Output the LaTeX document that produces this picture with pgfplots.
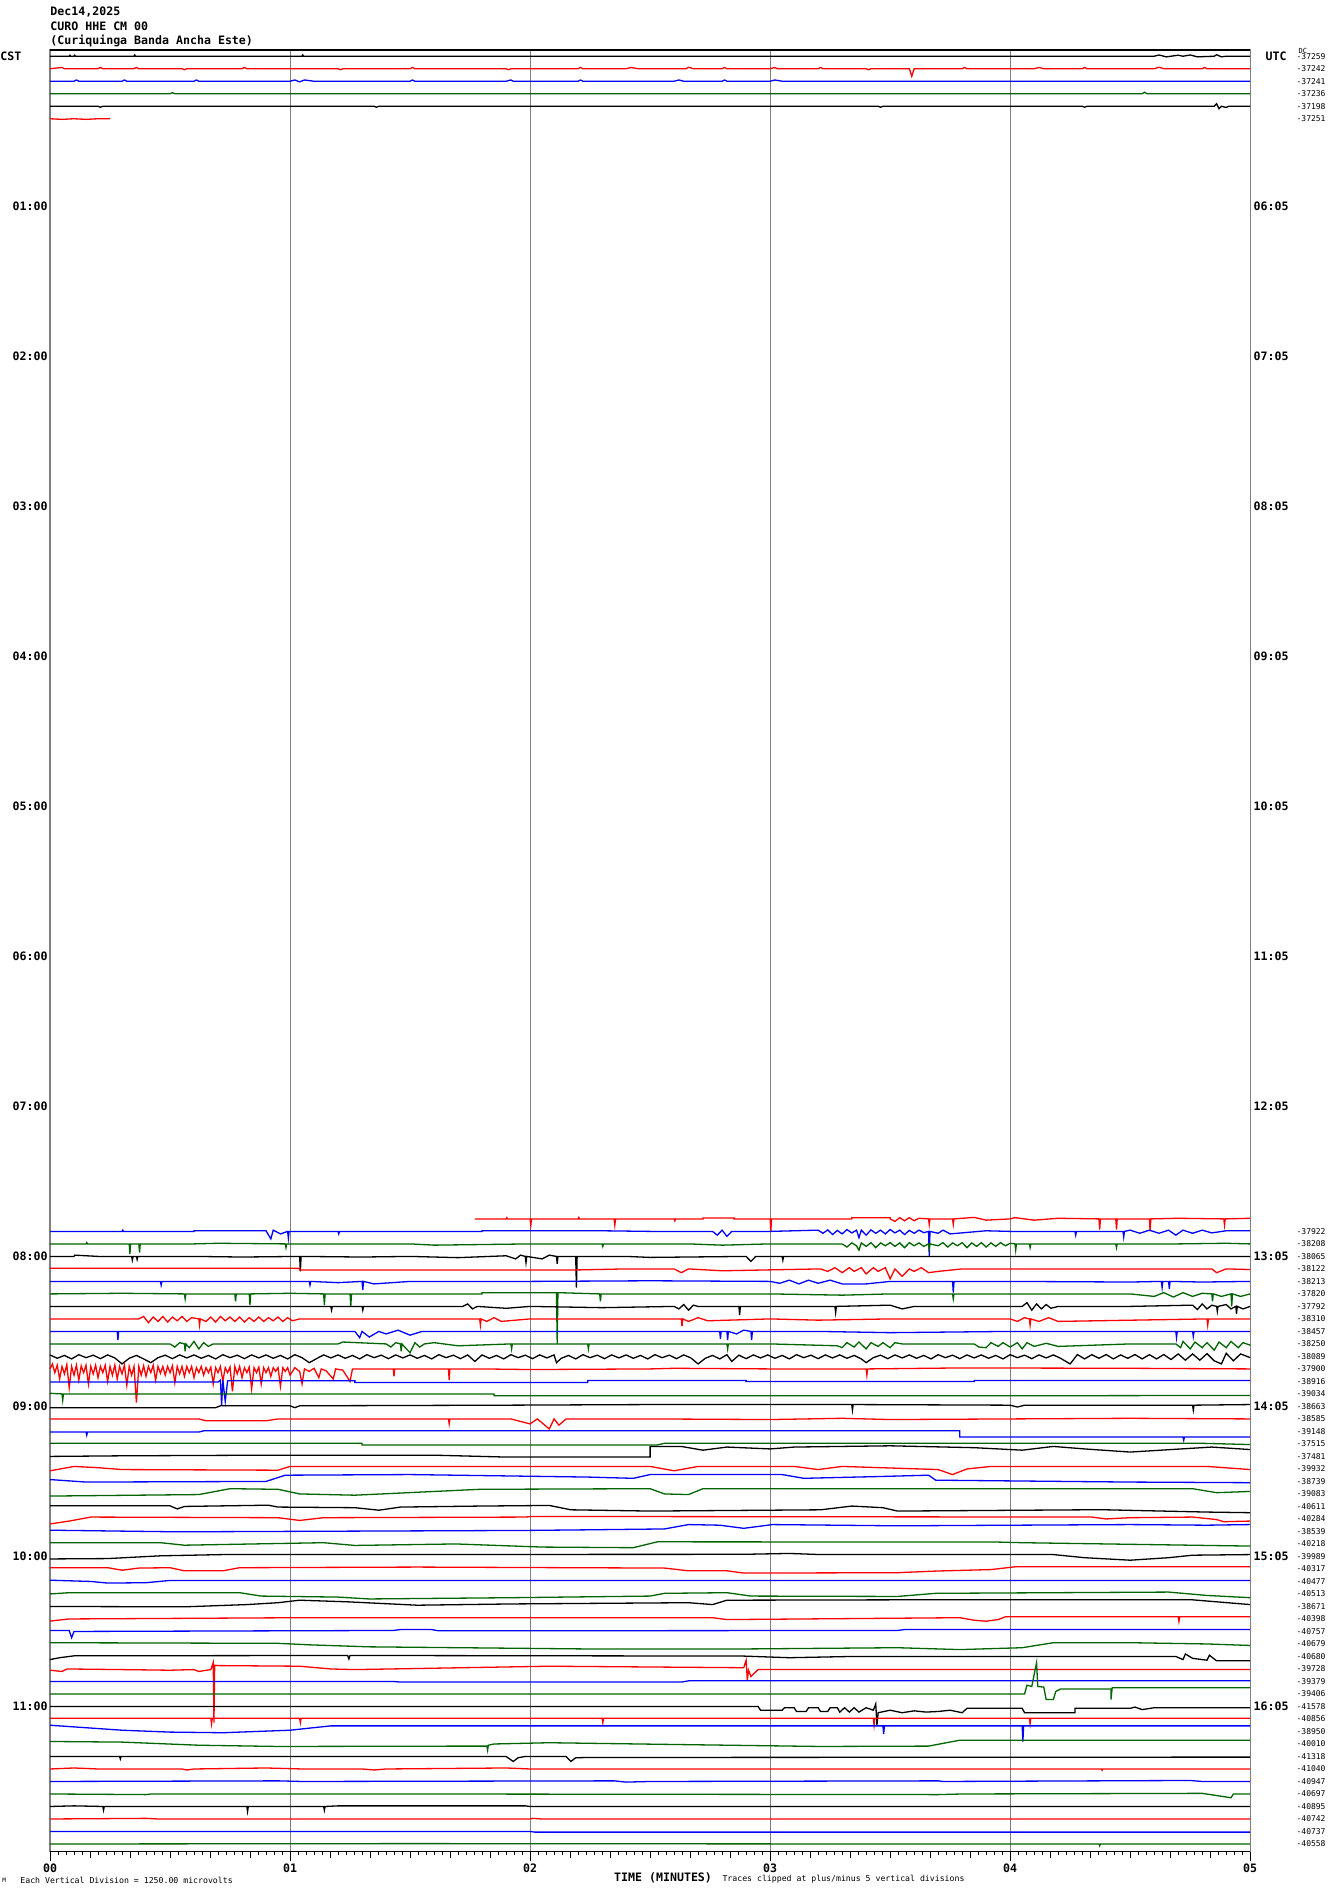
\documentclass[border=0pt]{standalone}
\usepackage{pgfplots}
\pgfplotsset{compat=1.18}
\usepackage{fontspec}
\setmainfont{DejaVu Sans Mono}
\setmonofont{DejaVu Sans Mono}

\definecolor{hred}{RGB}{255,0,0}
\definecolor{hblue}{RGB}{0,0,255}
\definecolor{hgreen}{RGB}{0,100,0}
\definecolor{hgrid}{RGB}{128,128,128}

\newcommand{\lab}{\fontsize{5.8pt}{7pt}\selectfont\ttfamily\bfseries}
\newcommand{\sml}{\fontsize{4.1pt}{5pt}\selectfont\ttfamily}
\newcommand{\num}{\fontsize{4pt}{5pt}\selectfont\ttfamily}

% one helicorder line: colour, row (5 min each), offsets in rows (down = +)
\newcommand{\tr}[3]{\addplot[#1, mark=none, line width=0.65pt, line join=miter,
  y filter/.expression={-(y+#2)}] coordinates {#3};}

\pgfplotsset{
  heli/.style={scale only axis, width=600pt, height=900.6pt,
    xmin=0, xmax=5, ymin=-143.6, ymax=0.5, at={(0,0)}, anchor=south west},
  overlay/.style={heli, axis line style={draw=none}, tick style={draw=none},
    xtick=\empty},
}

\begin{document}
\begin{tikzpicture}
\useasboundingbox (-25pt,-21.25pt) rectangle (640pt,925.6pt);

% hour labels, left
\begin{axis}[overlay,
  ytick={-12,-24,-36,-48,-60,-72,-84,-96,-108,-120,-132},
  yticklabels={01:00,02:00,03:00,04:00,05:00,06:00,07:00,08:00,09:00,10:00,11:00},
  yticklabel pos=left,
  yticklabel style={font=\lab, anchor=east, inner sep=0pt, xshift=-1pt}]
\end{axis}

% UTC labels, right
\begin{axis}[overlay,
  ytick={0,-12,-24,-36,-48,-60,-72,-84,-96,-108,-120,-132},
  yticklabels={\hspace*{6pt}UTC,06:05,07:05,08:05,09:05,10:05,11:05,12:05,13:05,14:05,15:05,16:05},
  yticklabel pos=right,
  yticklabel style={font=\lab, anchor=west, inner sep=0pt, xshift=1.5pt}]
\end{axis}

% mean value of each line
\begin{axis}[overlay,
  ytick={0,-1,-2,-3,-4,-5,-94,-95,-96,-97,-98,-99,-100,-101,-102,-103,-104,-105,-106,-107,-108,-109,-110,-111,-112,-113,-114,-115,-116,-117,-118,-119,-120,-121,-122,-123,-124,-125,-126,-127,-128,-129,-130,-131,-132,-133,-134,-135,-136,-137,-138,-139,-140,-141,-142,-143},
  yticklabels={-37259,-37242,-37241,-37236,-37198,-37251,
    -37922,-38208,-38065,-38122,-38213,-37820,-37792,-38310,-38457,-38250,
    -38089,-37900,-38916,-39034,-38663,-38585,-39148,-37515,-37481,-39932,
    -38739,-39083,-40611,-40284,-38539,-40218,-39989,-40317,-40477,-40513,
    -38671,-40398,-40757,-40679,-40680,-39728,-39379,-39406,-41578,-40856,
    -38950,-40010,-41318,-41040,-40947,-40697,-40895,-40742,-40737,-40558},
  yticklabel pos=right,
  yticklabel style={font=\num, anchor=west, inner sep=0pt, xshift=23pt}]
\end{axis}

\begin{axis}[heli, clip=false,
  axis line style={draw=hgrid, line width=0.6pt},
  xtick={0,1,2,3,4,5}, xticklabels={00,01,02,03,04,05},
  xtick pos=left, tick align=outside,
  minor x tick num=29,
  major tick length=5pt, minor tick length=2pt,
  tick style={black, line width=0.5pt},
  extra x ticks={0.16667,0.33333,0.5,0.66667,0.83333,1.16667,1.33333,1.5,1.66667,1.83333,
    2.16667,2.33333,2.5,2.66667,2.83333,3.16667,3.33333,3.5,3.66667,3.83333,
    4.16667,4.33333,4.5,4.66667,4.83333},
  extra x tick labels={},
  extra x tick style={major tick length=3.5pt, grid=none},
  xmajorgrids, grid style={draw=hgrid, line width=0.5pt},
  ytick=\empty,
  xticklabel style={font=\lab, inner sep=1pt},
]
\draw[black, line width=0.6pt] (axis cs:0,0.5) -- (axis cs:5,0.5);
\draw[black, line width=0.6pt] (axis cs:0,-143.6) -- (axis cs:5,-143.6);

\node[anchor=base west, font=\lab, inner sep=0pt] at (axis cs:0,3.24) {Dec14,2025};
\node[anchor=base west, font=\lab, inner sep=0pt] at (axis cs:0,2.04) {CURO HHE CM 00};
\node[anchor=base west, font=\lab, inner sep=0pt] at (axis cs:0,0.92) {(Curiquinga Banda Ancha Este)};
\node[anchor=west, font=\lab, inner sep=0pt] at (axis cs:-0.2083,0) {CST};
\node[anchor=west, font=\fontsize{3.5pt}{4pt}\selectfont\ttfamily, inner sep=0pt, xshift=24pt] at (axis cs:5,0.45) {DC};
\node[font=\lab, inner sep=0pt] at (axis cs:2.554,-145.7) {TIME (MINUTES)};
\node[anchor=west, font=\sml, inner sep=0pt] at (axis cs:-0.125,-145.9) {Each Vertical Division = 1250.00 microvolts};
\node[anchor=west, font=\sml, inner sep=0pt] at (axis cs:2.8,-145.8) {Traces clipped at plus/minus 5 vertical divisions};
\node[anchor=west, font=\fontsize{3pt}{4pt}\selectfont\ttfamily, inner sep=0pt] at (axis cs:-0.2,-145.9) {M};

% ---- 00:00 - 00:25
\tr{black}{0}{(0,0)(0.08,0)(0.083,-0.08)(0.086,0)(0.1,0)(0.103,-0.08)(0.106,0)(0.35,0)(0.353,-0.1)(0.356,0)(1.05,0)(1.053,-0.1)(1.056,0)(4.6,0)(4.62,-0.1)(4.65,0.05)(4.7,-0.08)(4.72,0)(4.75,-0.1)(4.78,0.05)(4.85,0)(4.86,-0.12)(4.88,0.05)(4.9,0)(5,0)}
\tr{hred}{1}{(0,0)(0.05,-0.1)(0.06,0)(0.2,0)(0.21,-0.1)(0.22,0)(0.35,0)(0.36,-0.1)(0.37,0)(0.55,0)(0.56,0.08)(0.57,0)(0.8,0)(0.81,-0.1)(0.82,0)(1.2,0)(1.21,0.08)(1.22,0)(1.5,0)(1.51,-0.1)(1.52,0)(1.9,0)(1.91,0.08)(1.92,0)(2.2,0)(2.21,-0.1)(2.22,0)(2.4,0)(2.42,-0.1)(2.45,0)(2.65,0)(2.66,-0.12)(2.68,0)(2.8,0)(2.81,-0.1)(2.82,0)(3.0,0)(3.02,-0.1)(3.03,0)(3.2,0)(3.21,-0.1)(3.22,0)(3.4,0)(3.41,0.08)(3.42,0)(3.58,0)(3.59,0.6)(3.6,0)(3.8,0)(3.81,-0.1)(3.82,0)(4.1,0)(4.12,-0.1)(4.14,0)(4.3,0)(4.31,-0.1)(4.32,0)(4.6,0)(4.62,-0.12)(4.64,0)(4.8,0)(4.81,-0.1)(4.82,0)(5,0)}
\tr{hblue}{2}{(0,0)(0.1,0)(0.11,-0.1)(0.12,0)(0.3,0)(0.31,-0.1)(0.32,0)(0.6,0)(0.61,-0.1)(0.62,0)(1.0,0)(1.02,-0.1)(1.04,0.05)(1.06,-0.1)(1.1,0)(1.5,0)(1.51,-0.1)(1.52,0)(1.9,0)(1.92,-0.1)(1.93,0)(2.2,0)(2.21,-0.1)(2.22,0)(2.6,0)(2.62,-0.1)(2.64,0)(2.8,0)(2.81,-0.1)(2.82,0)(3.0,0)(3.02,-0.1)(3.05,0)(5,0)}
\tr{hgreen}{3}{(0,0)(0.5,0)(0.51,-0.08)(0.52,0)(4.55,0)(4.56,-0.12)(4.57,0)(5,0)}
\tr{black}{4}{(0,0)(0.2,0)(0.21,0.08)(0.22,0)(1.35,0)(1.36,0.08)(1.37,0)(3.45,0)(3.46,0.08)(3.47,0)(4.3,0)(4.31,0.08)(4.32,0)(4.85,0)(4.86,-0.2)(4.87,0.2)(4.88,0)(4.9,0.1)(4.91,0)(5,0)}
\tr{hred}{5}{(0,0)(0.05,0.05)(0.1,0)(0.15,0.05)(0.2,0)(0.25,0)}

% ---- 07:45 - 11:55
\tr{hred}{93}{(1.77,0)(1.9,0)(1.903,-0.1)(1.906,0)(2.0,0)(2.003,0.5)(2.006,0)(2.2,0)(2.203,-0.12)(2.206,0)(2.35,0)(2.353,0.5)(2.356,0)(2.6,0)(2.603,0.15)(2.606,0)(2.72,0)(2.72,-0.08)(2.85,-0.08)(2.85,0)(3.0,0)(3.003,1.0)(3.006,0)(3.34,0)(3.34,-0.1)(3.5,-0.1)(3.5,0)(3.52,0.2)(3.54,-0.1)(3.56,0.15)(3.58,-0.1)(3.6,0.15)(3.62,-0.05)(3.66,0)(3.663,0.45)(3.666,0)(3.76,0)(3.763,0.45)(3.766,0)(3.85,-0.12)(3.9,0.1)(4.0,0)(4.02,-0.1)(4.1,0.1)(4.2,-0.05)(4.37,0)(4.373,0.85)(4.376,0)(4.44,0)(4.443,0.85)(4.446,0)(4.58,0)(4.583,1.0)(4.586,0)(4.7,-0.05)(4.89,0)(4.893,0.5)(4.896,0)(5,-0.05)}
\tr{hblue}{94}{(0,0)(0.3,0)(0.303,-0.1)(0.306,0)(0.6,0)(0.6,-0.05)(0.9,-0.05)(0.92,0.6)(0.93,-0.1)(0.96,0.2)(0.99,0)(0.993,0.55)(0.996,0)(1.2,0)(1.203,0.2)(1.206,0)(1.5,0)(1.8,0)(1.8,-0.05)(2.3,-0.05)(2.5,0)(2.76,0)(2.78,0.3)(2.8,-0.1)(2.82,0.4)(2.84,0)(3.0,0)(3.2,-0.1)(3.22,0.15)(3.24,-0.12)(3.26,0.25)(3.28,-0.08)(3.3,0.2)(3.32,-0.15)(3.34,0.12)(3.36,-0.1)(3.37,0.5)(3.38,-0.1)(3.4,0.3)(3.42,-0.12)(3.44,0.15)(3.46,-0.1)(3.48,0.2)(3.5,-0.15)(3.52,0.12)(3.54,-0.1)(3.56,0.25)(3.58,-0.08)(3.6,0.15)(3.62,-0.1)(3.64,0.1)(3.66,0)(3.663,2.0)(3.666,0)(3.7,0.15)(3.72,-0.1)(3.75,0.2)(3.9,-0.05)(4.0,0)(4.27,0)(4.273,0.3)(4.276,0)(4.47,0)(4.473,0.45)(4.476,0)(4.5,-0.1)(4.54,0.15)(4.58,-0.1)(4.62,0.15)(4.66,-0.1)(4.69,0.3)(4.72,-0.1)(4.76,0.15)(4.8,-0.1)(4.84,0.12)(4.9,-0.05)(5,-0.05)}
\tr{hgreen}{95}{(0,0)(0.15,0)(0.153,-0.1)(0.156,0)(0.33,0)(0.333,0.8)(0.336,0)(0.37,0)(0.373,0.7)(0.376,0)(0.6,0)(0.7,-0.05)(0.98,0)(0.983,0.3)(0.986,0)(1.5,0)(1.6,0.1)(2.0,0)(2.3,0)(2.303,0.2)(2.306,0)(2.66,0)(2.8,0.1)(3.0,0)(3.3,0)(3.32,0.25)(3.34,-0.08)(3.36,0.15)(3.37,0.5)(3.38,-0.08)(3.4,0.2)(3.42,-0.1)(3.44,0.3)(3.46,-0.08)(3.48,0.15)(3.5,-0.1)(3.52,0.2)(3.54,-0.08)(3.56,0.3)(3.58,-0.1)(3.6,0.15)(3.62,-0.08)(3.64,0.2)(3.66,0)(3.663,0.4)(3.666,0)(3.7,0.15)(3.72,-0.1)(3.74,0.25)(3.76,-0.08)(3.78,0.15)(3.8,-0.1)(3.82,0.3)(3.84,-0.08)(3.86,0.2)(3.88,-0.1)(3.9,0.25)(3.92,-0.08)(3.94,0.2)(3.96,-0.1)(3.98,0.15)(4.0,-0.05)(4.02,0)(4.023,0.5)(4.026,0)(4.08,0)(4.083,0.3)(4.086,0)(4.2,0)(4.44,0)(4.443,0.3)(4.446,0)(4.7,0)(4.9,-0.05)(5,0)}
\tr{black}{96}{(0,0)(0.1,0)(0.103,-0.1)(0.2,0)(0.34,0)(0.343,0.3)(0.346,0)(0.36,0)(0.363,0.25)(0.366,0)(0.6,0)(0.8,0.05)(1.04,0)(1.043,1.2)(1.046,0)(1.3,0.05)(1.5,0)(1.7,0.1)(1.9,-0.05)(1.94,0.2)(1.96,-0.1)(1.98,0)(1.983,0.5)(1.986,0)(2.05,0.2)(2.08,-0.1)(2.11,0)(2.113,0.6)(2.116,0)(2.19,0)(2.193,2.5)(2.196,0)(2.4,0)(2.5,0.08)(2.9,0)(2.92,0.4)(2.94,0)(3.05,0)(3.053,0.3)(3.056,0)(3.4,0)(4.0,0)(4.5,0)(5,0)}
\tr{hred}{97}{(0,-0.05)(1.04,-0.05)(1.04,0.08)(2.2,0.08)(2.4,0)(2.6,0)(2.63,0.3)(2.66,0)(2.8,0.15)(3.21,0)(3.24,0.2)(3.27,-0.1)(3.3,0.3)(3.33,-0.1)(3.35,0.2)(3.38,-0.1)(3.4,0.4)(3.43,-0.1)(3.45,0.2)(3.48,-0.1)(3.5,0.8)(3.52,0)(3.55,0.6)(3.58,0)(3.6,0.2)(3.63,-0.1)(3.66,0.3)(3.7,0.2)(3.8,0)(4.0,0)(4.84,0)(4.86,0.3)(4.9,0)(5,0.05)}
\tr{hblue}{98}{(0,0)(0.46,0)(0.463,0.3)(0.466,0)(1.08,0)(1.083,0.3)(1.086,0)(1.2,0.1)(1.3,0)(1.303,0.7)(1.306,0)(1.35,0.2)(1.5,0)(2.0,0)(2.5,-0.05)(3.0,0)(3.04,0.15)(3.08,-0.1)(3.12,0.2)(3.16,-0.1)(3.2,0.15)(3.25,-0.1)(3.3,0.2)(3.4,0.2)(3.5,0)(3.76,0)(3.763,0.9)(3.766,0)(4.0,0)(4.5,0.05)(4.63,0)(4.633,0.5)(4.636,0)(4.66,0)(4.663,0.6)(4.666,0)(4.8,0.05)(5,0)}
\tr{hgreen}{99}{(0,0)(0.3,-0.05)(0.56,0)(0.563,0.4)(0.566,0)(0.77,0)(0.773,0.6)(0.776,0)(0.83,0)(0.833,0.9)(0.836,0)(1.0,-0.05)(1.14,0)(1.143,0.9)(1.146,0)(1.25,0)(1.253,1.0)(1.256,0)(1.5,0)(1.8,0)(1.8,-0.1)(2.11,-0.1)(2.113,4.0)(2.116,-0.1)(2.29,0)(2.293,0.6)(2.296,0)(2.6,0)(3.0,0)(3.3,0.1)(3.5,0)(3.76,0)(3.763,0.4)(3.766,0)(4.0,0)(4.5,0)(4.6,0.2)(4.64,-0.1)(4.68,0.25)(4.72,-0.1)(4.76,0.2)(4.8,-0.05)(4.84,0)(4.843,0.6)(4.846,0)(4.88,0.2)(4.92,0)(4.923,1.0)(4.926,0)(4.96,0.2)(5,0)}
\tr{black}{100}{(0,0)(0.5,0)(1.17,0)(1.173,0.3)(1.176,0)(1.3,0)(1.303,0.3)(1.306,0)(1.72,0)(1.74,-0.2)(1.76,0.2)(1.78,0)(1.9,0.15)(2.0,0)(2.3,0.1)(2.6,0)(2.62,0.2)(2.64,-0.15)(2.66,0.3)(2.68,-0.1)(2.7,0)(2.87,0)(2.873,0.7)(2.876,0)(3.0,0)(3.27,0)(3.273,0.5)(3.276,0)(3.5,-0.1)(3.55,0.2)(3.6,0)(4.05,0)(4.07,-0.3)(4.09,0.3)(4.11,-0.2)(4.13,0.2)(4.15,-0.15)(4.17,0.15)(4.2,0)(4.5,0)(4.76,-0.1)(4.78,0.25)(4.8,-0.2)(4.82,0.2)(4.84,-0.1)(4.86,0)(4.863,0.4)(4.866,0)(4.9,-0.15)(4.92,0.2)(4.94,0)(4.943,0.6)(4.946,0)(4.97,0.2)(5,0)}
\tr{hred}{101}{(0,0)(0.37,0)(0.39,-0.2)(0.41,0.3)(0.43,-0.15)(0.45,0.2)(0.47,-0.2)(0.49,0.25)(0.51,-0.15)(0.53,0.15)(0.55,-0.2)(0.57,0.2)(0.59,-0.1)(0.62,0)(0.623,0.5)(0.626,0)(0.65,0.2)(0.67,-0.15)(0.69,0.25)(0.71,-0.2)(0.73,0.15)(0.75,-0.15)(0.77,0.2)(0.79,-0.15)(0.81,0.25)(0.83,-0.1)(0.85,0.2)(0.87,-0.15)(0.89,0.2)(0.91,-0.1)(0.93,0.15)(0.95,-0.15)(0.97,0.2)(0.99,-0.1)(1.01,0.15)(1.04,0)(1.5,0)(1.79,0)(1.793,0.5)(1.796,0)(1.82,0.2)(1.85,-0.1)(1.88,0.2)(2.0,0)(2.63,0)(2.633,0.6)(2.636,0)(2.66,0.2)(2.7,-0.1)(2.74,0.15)(3.0,0)(3.2,0.1)(3.5,0)(4.0,0)(4.03,0.2)(4.06,-0.1)(4.08,0)(4.083,0.5)(4.086,0)(4.12,0.2)(4.16,-0.1)(4.2,0.2)(4.82,0)(4.823,0.5)(4.826,0)(5,0)}
\tr{hblue}{102}{(0,0)(0.28,0)(0.283,0.7)(0.286,0)(0.95,0)(1.27,0)(1.29,0.5)(1.3,0)(1.33,0.45)(1.37,0)(1.4,0.2)(1.45,-0.1)(1.5,0.3)(1.55,0)(2.0,0)(2.5,0)(2.79,0)(2.793,0.6)(2.796,0)(2.82,0)(2.823,0.7)(2.826,0)(2.86,0.2)(2.89,-0.1)(2.92,0)(2.923,0.7)(2.926,0)(3.2,0)(3.5,0.1)(4.0,0)(4.69,0)(4.693,0.5)(4.696,0)(4.76,0)(4.763,0.4)(4.766,0)(5,0)}
\tr{hgreen}{103}{(0,0)(0.3,0)(0.5,0)(0.52,0.25)(0.54,-0.1)(0.56,0)(0.563,0.6)(0.566,0)(0.58,0.3)(0.6,-0.2)(0.62,0.4)(0.64,-0.1)(0.66,0.2)(0.68,0)(0.9,0)(1.2,0)(1.22,-0.15)(1.4,0)(1.42,0.25)(1.44,-0.1)(1.46,0)(1.463,0.6)(1.466,0)(1.48,0.3)(1.5,0.7)(1.52,-0.1)(1.54,0.25)(1.56,0)(1.6,-0.1)(1.7,0.15)(1.92,0)(1.923,0.4)(1.926,0)(2.24,0)(2.243,0.4)(2.246,0)(2.5,0)(2.82,0)(2.823,0.4)(2.826,0)(3.0,0)(3.28,0.15)(3.3,0.3)(3.32,-0.1)(3.35,0.25)(3.37,-0.15)(3.4,0.4)(3.42,-0.1)(3.45,0.2)(3.47,-0.1)(3.5,0.3)(3.52,-0.1)(3.55,0)(3.85,0)(3.87,0.25)(3.9,0.3)(3.92,-0.1)(3.95,0.2)(3.97,-0.1)(4.0,0.25)(4.03,-0.1)(4.05,0.4)(4.07,-0.1)(4.1,0.2)(4.15,-0.05)(4.2,0.2)(4.5,0)(4.69,0)(4.71,0.3)(4.72,-0.2)(4.75,0.4)(4.77,-0.15)(4.8,0.3)(4.82,-0.1)(4.85,0.5)(4.87,-0.15)(4.9,0.3)(4.92,-0.2)(4.95,0.3)(4.97,-0.1)(5,0.1)}
\tr{black}{104}{(0,-0.12)(0.03,0.15)(0.06,-0.08)(0.09,0.2)(0.12,-0.14)(0.15,0.1)(0.18,-0.1)(0.21,0.18)(0.24,-0.12)(0.27,0.12)(0.3,0.6)(0.33,0.15)(0.36,-0.08)(0.39,0.2)(0.42,0.5)(0.45,0.1)(0.48,-0.1)(0.51,0.18)(0.54,-0.12)(0.57,0.12)(0.6,-0.12)(0.63,0.15)(0.66,-0.08)(0.69,0.2)(0.72,-0.14)(0.75,0.1)(0.78,-0.1)(0.81,0.18)(0.84,-0.12)(0.87,0.12)(0.9,-0.12)(0.93,0.15)(0.96,-0.08)(0.99,0.2)(1.02,-0.14)(1.05,0.1)(1.08,0.5)(1.11,0.18)(1.14,-0.12)(1.17,0.12)(1.2,-0.12)(1.23,0.15)(1.26,-0.08)(1.29,0.2)(1.32,-0.14)(1.35,0.1)(1.38,-0.1)(1.41,0.18)(1.44,-0.12)(1.47,0.12)(1.5,-0.12)(1.53,0.15)(1.56,-0.08)(1.59,0.2)(1.62,-0.14)(1.65,0.1)(1.68,-0.1)(1.71,0.18)(1.74,-0.12)(1.77,0.4)(1.8,-0.12)(1.83,0.15)(1.86,-0.08)(1.89,0.2)(1.92,-0.14)(1.95,0.1)(1.98,-0.1)(2.01,0.18)(2.04,-0.12)(2.07,0.12)(2.1,-0.12)(2.11,0.5)(2.13,0.15)(2.16,-0.08)(2.19,0.2)(2.22,-0.14)(2.25,0.1)(2.28,-0.1)(2.31,0.18)(2.34,-0.12)(2.37,0.12)(2.4,-0.12)(2.43,0.15)(2.46,-0.08)(2.49,0.2)(2.52,-0.14)(2.55,0.1)(2.58,-0.1)(2.61,0.18)(2.64,-0.12)(2.67,0.12)(2.7,0.6)(2.73,0.15)(2.76,-0.08)(2.79,0.2)(2.82,-0.14)(2.84,0.4)(2.87,-0.1)(2.9,0.18)(2.93,-0.12)(2.96,0.12)(2.99,-0.12)(3.02,0.15)(3.05,-0.08)(3.08,0.2)(3.11,-0.14)(3.14,0.1)(3.17,-0.1)(3.2,0.18)(3.23,-0.12)(3.26,0.12)(3.29,-0.12)(3.32,0.15)(3.35,-0.08)(3.38,0.2)(3.4,0.5)(3.43,0.1)(3.46,-0.1)(3.49,0.18)(3.52,-0.12)(3.55,0.12)(3.58,-0.12)(3.61,0.15)(3.64,-0.08)(3.67,0.2)(3.7,-0.14)(3.73,0.1)(3.76,-0.1)(3.79,0.18)(3.82,-0.12)(3.85,0.12)(3.88,-0.12)(3.91,0.15)(3.94,-0.08)(3.97,0.2)(4.0,-0.14)(4.03,0.1)(4.06,-0.1)(4.09,0.18)(4.12,-0.12)(4.15,0.12)(4.18,-0.12)(4.21,0.15)(4.25,0.6)(4.28,-0.15)(4.31,0.2)(4.34,-0.14)(4.37,0.15)(4.4,-0.15)(4.43,0.2)(4.46,-0.12)(4.49,0.15)(4.52,-0.15)(4.55,0.2)(4.58,-0.14)(4.61,0.2)(4.64,-0.15)(4.67,0.25)(4.7,-0.2)(4.73,0.3)(4.76,-0.2)(4.79,0.3)(4.82,-0.22)(4.85,0.35)(4.88,0.6)(4.9,-0.25)(4.93,0.35)(4.96,-0.2)(5,0.1)}
\tr{hred}{105}{(0,0)(0.01,-0.4)(0.02,0.3)(0.03,-0.3)(0.04,0.8)(0.05,-0.2)(0.06,0.4)(0.07,-0.35)(0.08,1.5)(0.09,-0.2)(0.1,0.5)(0.11,-0.3)(0.12,0.9)(0.13,-0.25)(0.14,0.3)(0.15,-0.3)(0.16,1.2)(0.17,-0.2)(0.18,0.4)(0.19,-0.3)(0.2,0.7)(0.21,-0.2)(0.22,0.3)(0.23,-0.3)(0.24,1.0)(0.25,-0.2)(0.26,0.5)(0.27,-0.3)(0.28,0.8)(0.29,-0.2)(0.3,0.4)(0.31,-0.3)(0.32,1.3)(0.33,-0.2)(0.34,0.5)(0.35,-0.2)(0.36,2.7)(0.37,-0.2)(0.38,0.5)(0.39,-0.25)(0.4,0.6)(0.41,-0.2)(0.42,0.3)(0.43,-0.3)(0.44,0.9)(0.45,-0.2)(0.46,0.35)(0.47,-0.2)(0.48,0.5)(0.49,-0.2)(0.5,0.3)(0.51,-0.25)(0.52,1.1)(0.53,-0.2)(0.54,0.4)(0.55,-0.2)(0.56,0.6)(0.57,-0.2)(0.58,0.3)(0.59,-0.2)(0.6,0.7)(0.61,-0.1)(0.62,0.3)(0.63,-0.2)(0.64,0.5)(0.65,-0.1)(0.66,0.3)(0.67,-0.15)(0.68,1.2)(0.69,-0.1)(0.7,0.3)(0.71,-0.2)(0.72,1.0)(0.73,-0.1)(0.74,0.3)(0.75,-0.15)(0.76,1.8)(0.77,-0.2)(0.78,0.4)(0.79,-0.2)(0.8,0.7)(0.81,-0.1)(0.82,0.3)(0.83,-0.15)(0.84,1.6)(0.85,-0.1)(0.86,0.3)(0.87,-0.15)(0.88,1.2)(0.89,-0.1)(0.9,0.3)(0.91,-0.1)(0.92,0.6)(0.93,-0.1)(0.94,0.2)(0.95,-0.1)(0.96,1.4)(0.97,-0.1)(0.98,0.2)(0.99,-0.1)(1.0,0.5)(1.02,-0.1)(1.04,0.2)(1.05,1.2)(1.06,0)(1.08,0.2)(1.1,-0.05)(1.12,0.7)(1.13,0)(1.15,0.15)(1.18,0.8)(1.19,0)(1.22,0.1)(1.25,1.0)(1.26,0)(1.28,0)(1.43,0)(1.433,0.6)(1.436,0)(1.66,0)(1.663,0.9)(1.666,0)(1.8,0)(2.0,0.05)(2.5,0)(2.6,-0.05)(3.0,0)(3.4,0)(3.403,0.5)(3.406,0)(3.8,-0.08)(4.5,-0.05)(5,0)}
\tr{hblue}{106}{(0,0.05)(0.7,0.05)(0.71,-0.1)(0.715,1.9)(0.72,-0.1)(0.73,1.6)(0.74,-0.05)(1.27,-0.05)(1.27,0.08)(2.24,0.08)(2.24,-0.08)(2.9,-0.08)(2.9,0)(3.85,0)(3.85,-0.08)(5,-0.08)}
\tr{hgreen}{107}{(0,-0.05)(0.05,0)(0.053,0.5)(0.056,0)(1.85,0)(1.85,0.15)(3.5,0.15)(4.0,0.15)(5,0.12)}
\tr{black}{108}{(0,0.1)(0.69,0.1)(0.71,-0.05)(1.0,-0.05)(1.02,0.1)(1.04,-0.05)(1.9,-0.1)(2.5,-0.15)(3.34,-0.15)(3.343,0.3)(3.346,-0.15)(4.0,-0.1)(4.03,0.05)(4.06,-0.1)(4.76,-0.1)(4.763,0.3)(4.766,-0.1)(5,-0.15)}
\tr{hred}{109}{(0,0)(0.62,0)(0.65,0.15)(0.9,0.15)(0.95,0)(1.5,0)(1.66,0)(1.663,0.4)(1.666,0)(1.92,0)(2.0,0.4)(2.03,0)(2.08,0.8)(2.1,0)(2.12,0.5)(2.15,0)(2.5,0)(3.0,0.05)(3.3,-0.05)(3.5,0.05)(4.0,0)(4.5,-0.05)(5,0)}
\tr{hblue}{110}{(0,0.05)(0.15,0.05)(0.153,0.3)(0.156,0.05)(0.62,0.05)(0.64,-0.05)(3.79,-0.05)(3.79,0.45)(4.72,0.45)(4.723,0.7)(4.726,0.45)(5,0.45)}
\tr{hgreen}{111}{(0,-0.05)(1.3,-0.05)(1.3,0.08)(2.53,0.08)(2.56,-0.05)(4.8,-0.05)(5,0.05)}
\tr{black}{112}{(0,0)(0.3,-0.05)(0.9,-0.1)(1.6,-0.1)(1.9,0.05)(2.5,0.05)(2.5,-0.8)(2.63,-0.8)(2.72,-0.5)(2.82,-0.75)(3.0,-0.6)(3.1,-0.75)(3.5,-0.85)(3.85,-0.7)(4.05,-0.5)(4.18,-0.8)(4.31,-0.6)(4.5,-0.35)(4.84,-0.75)(5,-0.55)}
\tr{hred}{113}{(0,0.15)(0.1,-0.2)(0.2,-0.1)(0.3,0.05)(0.95,0.1)(1.0,-0.2)(1.6,-0.2)(2.5,-0.2)(2.6,0.15)(2.7,-0.2)(3.1,-0.2)(3.2,0.05)(3.3,-0.2)(3.7,0.05)(3.76,0.45)(3.82,0)(3.92,-0.2)(4.82,-0.2)(5,0.05)}
\tr{hblue}{114}{(0,-0.15)(0.15,0.05)(0.9,0)(0.98,-0.5)(1.5,-0.55)(2.24,-0.35)(2.43,-0.25)(2.5,-0.55)(3.05,-0.55)(3.14,-0.25)(3.47,-0.4)(3.66,-0.5)(3.69,-0.1)(4.5,0.05)(5,0.1)}
\tr{hgreen}{115}{(0,0.17)(0.62,0.05)(0.75,-0.42)(0.95,-0.37)(1.04,0)(1.27,0.1)(1.79,-0.37)(2.5,-0.42)(2.56,0)(2.66,0.05)(2.72,-0.42)(4.76,-0.42)(4.86,-0.1)(5,-0.2)}
\tr{black}{116}{(0,-0.05)(0.5,-0.05)(0.53,0.2)(0.56,0)(0.91,-0.1)(0.95,0.05)(1.27,0.1)(1.37,0.3)(1.46,0.05)(1.79,-0.03)(2.08,-0.08)(2.17,0.27)(2.5,0.37)(3.21,0.27)(3.34,-0.03)(3.47,0.1)(3.53,0.37)(4.31,0.27)(4.4,0.27)(4.82,0.45)(5,0.5)}
\tr{hred}{117}{(0,0.4)(0.08,0.17)(0.17,-0.15)(0.95,-0.1)(1.04,0.12)(1.14,-0.1)(1.98,-0.15)(2.01,-0.2)(4.34,-0.15)(4.4,0)(4.5,-0.1)(4.76,-0.15)(4.86,0.05)(4.89,0.22)(5,0.17)}
\tr{hblue}{118}{(0,-0.1)(0.53,0.03)(1.98,-0.08)(2.24,-0.13)(2.56,-0.2)(2.66,-0.55)(2.79,-0.5)(2.89,-0.25)(3.01,-0.55)(3.53,-0.45)(4.5,-0.55)(4.82,-0.5)(5,-0.55)}
\tr{hgreen}{119}{(0,-0.1)(0.46,-0.1)(0.56,0.1)(1.14,-0.1)(1.27,0.12)(1.69,0)(2.05,0.25)(2.43,0.3)(2.53,-0.17)(3.95,-0.15)(4.05,-0.1)(4.82,0.12)(5,0.17)}
\tr{black}{120}{(0,0.2)(0.24,0.17)(0.46,-0.05)(0.72,-0.15)(2.89,-0.17)(3.08,-0.24)(3.21,-0.15)(4.18,-0.15)(4.31,0.1)(4.5,0.3)(4.66,0.1)(4.76,-0.1)(5,-0.15)}
\tr{hred}{121}{(0,-0.1)(0.24,-0.1)(0.3,0.1)(0.37,-0.07)(0.5,-0.1)(0.56,0.15)(0.72,0.15)(0.79,-0.1)(1.53,-0.15)(2.56,-0.07)(2.66,0.15)(2.82,0.15)(2.89,0.33)(3.53,0.3)(3.69,0.17)(3.92,0.05)(4.02,-0.17)(5,-0.17)}
\tr{hblue}{122}{(0,-0.1)(0.17,0)(0.24,0.13)(0.4,0.1)(0.5,-0.08)(5,-0.08)}
\tr{hgreen}{123}{(0,0)(0.08,-0.1)(0.79,-0.1)(0.88,0.17)(1.2,0.25)(1.33,0.4)(1.92,0.3)(2.5,0.17)(2.56,-0.05)(2.82,-0.1)(2.92,0.17)(3.53,0.2)(3.69,-0.05)(4.18,-0.1)(4.66,-0.15)(4.82,0.12)(5,0.3)}
\tr{black}{124}{(0,0)(0.56,0.03)(0.82,-0.15)(0.95,-0.3)(1.04,-0.5)(1.24,-0.37)(1.53,-0.1)(1.92,-0.2)(2.66,-0.3)(2.76,-0.15)(2.82,-0.5)(3.53,-0.53)(4.76,-0.53)(5,-0.15)}
\tr{hred}{125}{(0,0.17)(0.08,0)(1.04,-0.1)(2.76,-0.1)(2.82,0.05)(3.79,-0.1)(3.85,0.1)(3.9,0.18)(3.95,0.05)(3.98,-0.17)(4.7,-0.17)(4.703,0.2)(4.706,-0.17)(5,-0.17)}
\tr{hblue}{126}{(0,-0.08)(0.08,-0.08)(0.09,0.5)(0.1,0)(1.43,-0.08)(1.46,-0.15)(1.59,-0.15)(1.62,-0.05)(3.53,-0.08)(3.56,-0.15)(5,-0.15)}
\tr{hgreen}{127}{(0,-0.1)(0.95,-0.05)(1.08,0.07)(1.33,0.23)(2.24,0.4)(2.89,0.4)(3.53,0.3)(3.79,0.45)(4.05,0.3)(4.18,-0.1)(4.5,-0.1)(4.82,0)(5,0.12)}
\tr{black}{128}{(0,0.25)(0.04,0.1)(0.1,-0.05)(1.24,-0.08)(1.245,0.2)(1.25,-0.08)(2.89,-0.03)(3.08,0.1)(3.34,0)(4.69,0)(4.72,0.25)(4.73,-0.2)(4.76,0.15)(4.82,0.3)(4.83,-0.1)(4.86,0.35)(5,0.35)}
\tr{hred}{129}{(0,0.1)(0.05,0.2)(0.07,0)(0.3,0.05)(0.5,0.1)(0.6,0.05)(0.62,0.2)(0.67,0.05)(0.68,-0.5)(0.683,4.3)(0.686,-0.3)(0.7,-0.27)(1.04,-0.22)(1.17,0)(1.27,0.05)(2.08,-0.22)(2.89,-0.1)(2.9,-0.7)(2.905,0.9)(2.91,0.1)(2.92,0.6)(2.95,0.05)(5,0.05)}
\tr{hblue}{130}{(0,0)(1.43,0)(1.46,0.05)(2.63,0.05)(2.66,-0.05)(5,-0.05)}
\tr{hgreen}{131}{(0,0)(4.06,0)(4.07,-0.7)(4.09,-0.6)(4.11,-2.5)(4.115,-0.6)(4.14,-0.55)(4.15,0.45)(4.18,0.45)(4.19,-0.2)(4.21,-0.4)(4.42,-0.4)(4.42,0.45)(4.425,-0.5)(5,-0.5)}
\tr{black}{132}{(0,0)(2.95,0)(2.96,0.3)(3.05,0.3)(3.06,0.1)(3.1,0.1)(3.11,0.4)(3.15,0.4)(3.16,0.1)(3.2,0.1)(3.21,0.4)(3.24,0.4)(3.25,0.1)(3.28,0.1)(3.29,0.45)(3.31,0.1)(3.33,0.45)(3.35,0.1)(3.37,0.45)(3.4,0.1)(3.43,0.3)(3.44,-0.2)(3.445,1.5)(3.45,0.5)(3.5,0.3)(3.55,0.5)(3.6,0.35)(3.65,0.45)(3.7,0.4)(3.75,0.3)(3.8,0.5)(3.82,0.15)(4.05,0.15)(4.06,0.5)(4.27,0.5)(4.27,0.15)(4.5,0.15)(4.52,0.05)(4.55,0.25)(4.6,0.1)(5,0.1)}
\tr{hred}{133}{(0,-0.05)(0.67,-0.05)(0.673,0.4)(0.676,-0.05)(1.04,-0.05)(1.043,0.3)(1.046,-0.05)(2.3,-0.05)(2.303,0.3)(2.306,-0.05)(3.43,-0.05)(3.433,0.5)(3.436,-0.05)(4.08,-0.05)(4.083,0.4)(4.086,-0.05)(5,-0.05)}
\tr{hblue}{134}{(0,-0.5)(0.15,-0.3)(0.3,-0.1)(0.5,0.05)(0.72,0.1)(1.0,-0.1)(1.17,-0.45)(1.5,-0.45)(3.47,-0.45)(3.473,0.2)(3.476,-0.45)(4.05,-0.45)(4.053,0.8)(4.056,-0.45)(5,-0.45)}
\tr{hgreen}{135}{(0,-0.2)(0.3,-0.15)(0.62,0.1)(0.95,0.2)(1.75,0.17)(1.82,0.17)(1.823,0.5)(1.826,0.1)(1.85,0)(2.08,-0.1)(2.56,0.03)(3.21,0.2)(3.66,0.17)(3.79,-0.3)(5,-0.3)}
\tr{black}{136}{(0,0)(0.29,0)(0.293,0.2)(0.296,0)(1.9,0)(1.93,0.4)(1.95,0.1)(1.98,0)(2.15,0)(2.17,0.4)(2.19,0.1)(2.25,0.08)(5,0.05)}
\tr{hred}{137}{(0,0)(0.1,-0.08)(0.2,0)(0.55,0)(0.57,0.08)(0.6,0)(0.9,-0.08)(1.05,0)(1.3,0)(1.35,0.08)(1.4,0)(1.9,-0.08)(2.0,0)(4.38,0)(4.383,0.1)(4.386,0)(5,0)}
\tr{hblue}{138}{(0,0)(0.95,-0.05)(1.05,0)(2.35,-0.05)(2.4,0.05)(2.5,0)(3.7,-0.05)(3.72,0)(4.75,-0.08)(4.8,0)(5,0)}
\tr{hgreen}{139}{(0,0)(0.4,0.05)(0.42,0)(1.5,0)(3.7,0.05)(3.8,0)(4.8,-0.05)(4.92,0.3)(4.93,0)(5,0)}
\tr{black}{140}{(0,0)(0.1,-0.05)(0.22,0)(0.223,0.3)(0.226,0)(0.82,0)(0.823,0.4)(0.826,0)(1.14,0)(1.143,0.3)(1.146,0)(1.2,-0.05)(1.98,-0.05)(2.0,0)(5,0)}
\tr{hred}{141}{(0,0)(0.4,-0.05)(0.45,0)(2.0,0)(2.01,-0.05)(2.05,0)(5,0)}
\tr{hblue}{142}{(0,0)(2.0,0)(2.02,0.05)(5,0.05)}
\tr{hgreen}{143}{(0,0)(1.5,-0.03)(3.5,0)(4.37,0)(4.373,0.15)(4.376,0)(5,0)}
\end{axis}
\end{tikzpicture}
\end{document}
